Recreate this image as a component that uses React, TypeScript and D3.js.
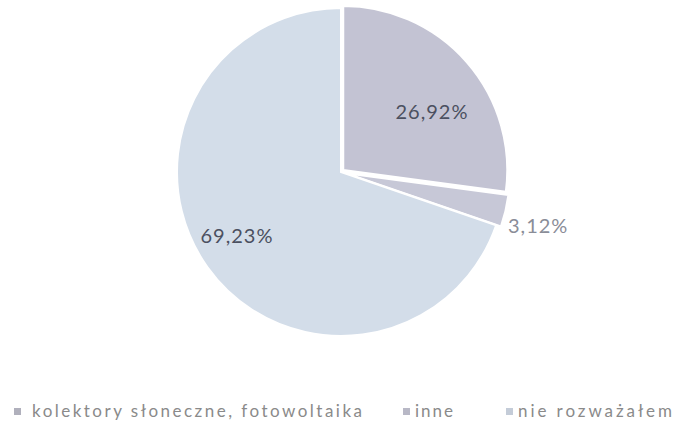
import React from "react";
import * as d3 from "d3";

const categories = ["kolektory słoneczne, fotowoltaika", "inne", "nie rozważałem"];
const values = [26.92, 3.12, 69.23];
const labels = ["26,92%", "3,12%", "69,23%"];
const colors = ["#c3c3d3", "#c7c8d7", "#d3dde9"];
const explode = [3, 5, 0];

export default function App() {
  const W = 678, H = 430;
  const cx = 341, cy = 172, R = 164;
  const pie = d3.pie<number>().sort(null).value((d) => d);
  const arcs = pie(values);
  const arc = d3.arc<d3.PieArcDatum<number>>().innerRadius(0).outerRadius(R);
  const labelPos = [
    { x: 432, y: 119, anchor: "middle" },
    { x: 508, y: 233, anchor: "start" },
    { x: 237, y: 243, anchor: "middle" },
  ];
  const markerX = [14, 403, 506];
  const textX = [32, 415, 518];
  const legendW = [330, 38, 154];
  const legendY = 412;
  return (
    <svg width={W} height={H} style={{ position: "absolute", left: 0, top: 0, background: "#fff" }}>
      <g transform={`translate(${cx},${cy})`}>
        {arcs.map((a, i) => {
          const mid = (a.startAngle + a.endAngle) / 2;
          const dx = Math.sin(mid) * explode[i];
          const dy = -Math.cos(mid) * explode[i];
          return (
            <path
              key={i}
              d={arc(a) || ""}
              transform={`translate(${dx},${dy})`}
              fill={colors[i]}
              stroke="#ffffff"
              strokeWidth={2}
            />
          );
        })}
      </g>
      {labels.map((l, i) => (
        <text
          key={i}
          x={labelPos[i].x}
          y={labelPos[i].y}
          textAnchor={labelPos[i].anchor as any}
          fontFamily="Lato, 'Open Sans', sans-serif"
          fontSize={20}
          letterSpacing={1}
          fill={i === 1 ? "#8a8d98" : "#4b5060"}
        >
          {l}
        </text>
      ))}
      {categories.map((c, i) => (
        <g key={i}>
          <rect x={markerX[i]} y={legendY - 4} width={7} height={7} fill={i === 0 ? "#b0b0bc" : i === 1 ? "#b8b8c6" : "#c4ccd8"} />
          <text
            x={textX[i]}
            y={legendY + 5}
            fontFamily="Lato, 'Open Sans', sans-serif"
            fontSize={17}
            textLength={legendW[i]}
            lengthAdjust="spacing"
            fill="#8a8a8a"
          >
            {c}
          </text>
        </g>
      ))}
    </svg>
  );
}
